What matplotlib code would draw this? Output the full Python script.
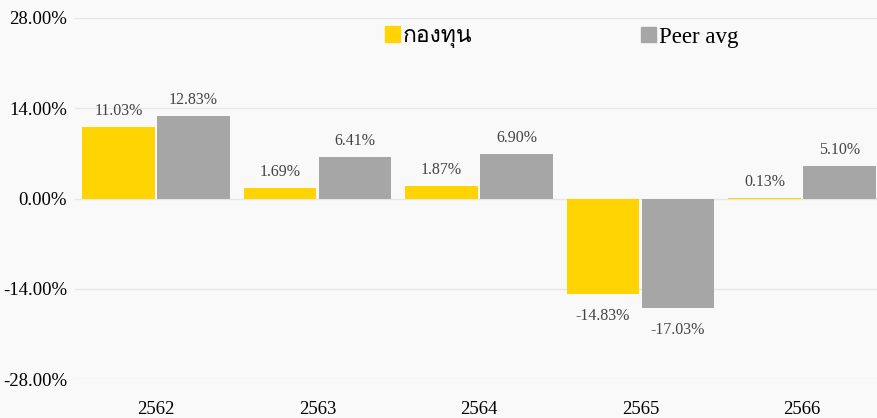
import numpy as np
import matplotlib
matplotlib.use("Agg")
from matplotlib import pyplot as plt
from matplotlib import font_manager
from matplotlib.ft2font import FT2Font
from matplotlib.patches import Patch

# ----------
# Data

years = ["2562", "2563", "2564", "2565", "2566"]
fund = [11.03, 1.69, 1.87, -14.83, 0.13]
peer = [12.83, 6.41, 6.90, -17.03, 5.10]
yticks = [-28, -14, 0, 14, 28]

yellow = "#FFD400"
grey = "#A6A6A6"
bg = "#F9F9F9"

# find an installed family that has Thai letters
thai = []
for f in font_manager.fontManager.ttflist:
    try:
        if ord("ก") in FT2Font(f.fname).get_charmap() and f.name not in thai:
            thai.append(f.name)
    except Exception:
        pass

plt.rcParams['font.family'] = ['Liberation Serif'] + thai + ['DejaVu Sans']

# ----------
# Figure

fig = plt.figure(figsize=(8.77, 4.18), dpi=100, facecolor=bg)
ax = fig.add_axes([75.25/877, 1 - 379/418, (882.75 - 75.25)/877, (379 - 18)/418])
ax.set_facecolor(bg)

x = np.arange(len(years))
w = 0.45
off = 0.232
b1 = ax.bar(x - off, fund, w, color=yellow, zorder=2)
b2 = ax.bar(x + off, peer, w, color=grey, zorder=2)

for bars, vals in ((b1, fund), (b2, peer)):
    for r, v in zip(bars, vals):
        cx = r.get_x() + r.get_width()/2
        dy = 11.5 if v >= 0 else -15.5
        ax.annotate("%.2f%%" % v, (cx, v), xytext=(0, dy), textcoords="offset points",
                    ha="center", va="center", fontsize=11.5, color="#444444")

ax.set_ylim(-28, 28)
ax.set_xlim(-0.5, 4.5)
ax.set_yticks(yticks)
ax.set_yticklabels(["%.2f%%" % t for t in yticks], fontsize=13.5, color="black")
ax.set_xticks(x)
ax.set_xticklabels(years, fontsize=13.5, color="black")
ax.tick_params(axis="x", length=0, pad=16)
ax.tick_params(axis="y", length=0, pad=6)
ax.grid(axis="y", color="#E6E6E6", linewidth=1, zorder=0)
for s in ax.spines.values():
    s.set_visible(False)

# legend, two entries far apart
l1 = fig.legend(handles=[Patch(color=yellow)], labels=["กองทุน"], loc="center left",
                bbox_to_anchor=(364/877, 1 - 37/418), frameon=False, fontsize=16.5,
                handlelength=0.65, handleheight=0.65, handletextpad=0.15)
l2 = fig.legend(handles=[Patch(color=grey)], labels=["Peer avg"], loc="center left",
                bbox_to_anchor=(620/877, 1 - 37/418), frameon=False, fontsize=16.5,
                handlelength=0.65, handleheight=0.65, handletextpad=0.15)

fig.savefig("out.png", dpi=100, facecolor=bg)
